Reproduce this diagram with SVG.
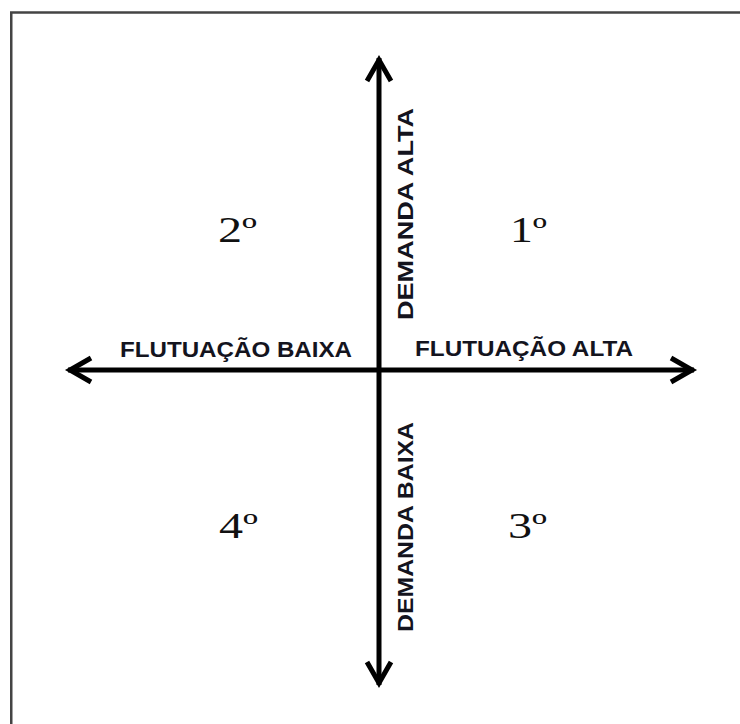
<svg xmlns="http://www.w3.org/2000/svg" width="740" height="724" viewBox="0 0 740 724">
  <style>
    .axis { stroke: #000; stroke-width: 5; fill: none; marker-start: url(#arrow); marker-end: url(#arrow); }
    .lbl { font-family: "Liberation Sans", Arial, sans-serif; font-weight: bold; font-size: 22px; fill: #14141e; }
    .num { font-family: "Liberation Serif", "Times New Roman", serif; font-size: 36px; fill: #111; }
  </style>
  <defs>
    <marker id="arrow" markerUnits="userSpaceOnUse" orient="auto-start-reverse" refX="0" refY="0" markerWidth="40" markerHeight="40" overflow="visible">
      <path d="M-23,-12 L-2,0 L-23,12" fill="none" stroke="#000" stroke-width="5" stroke-linejoin="miter"/>
    </marker>
  </defs>
  <rect x="0" y="0" width="740" height="724" fill="#fff"/>
  <rect id="frame" x="11.25" y="12.5" width="760" height="760" fill="none" stroke="#444" stroke-width="2.5"/>
  <g id="connectors">
    <line class="axis" x1="379" y1="58" x2="379" y2="685"/>
    <line class="axis" x1="68" y1="370" x2="694" y2="370"/>
  </g>
  <g id="label-flutuacao-baixa"><text class="lbl" x="120" y="357" textLength="232" lengthAdjust="spacingAndGlyphs">FLUTUAÇÃO BAIXA</text></g>
  <g id="label-flutuacao-alta"><text class="lbl" x="415" y="356" textLength="218" lengthAdjust="spacingAndGlyphs">FLUTUAÇÃO ALTA</text></g>
  <g id="label-demanda-alta"><text class="lbl" transform="translate(413,214) rotate(-90)" text-anchor="middle" textLength="212" lengthAdjust="spacingAndGlyphs">DEMANDA ALTA</text></g>
  <g id="label-demanda-baixa"><text class="lbl" transform="translate(413,527) rotate(-90)" text-anchor="middle" textLength="210" lengthAdjust="spacingAndGlyphs">DEMANDA BAIXA</text></g>
  <g id="q1"><text class="num" x="510" y="242" textLength="37" lengthAdjust="spacingAndGlyphs">1º</text></g>
  <g id="q2"><text class="num" x="218" y="242" textLength="39" lengthAdjust="spacingAndGlyphs">2º</text></g>
  <g id="q3"><text class="num" x="508" y="538" textLength="39" lengthAdjust="spacingAndGlyphs">3º</text></g>
  <g id="q4"><text class="num" x="219" y="538" textLength="39" lengthAdjust="spacingAndGlyphs">4º</text></g>
</svg>
